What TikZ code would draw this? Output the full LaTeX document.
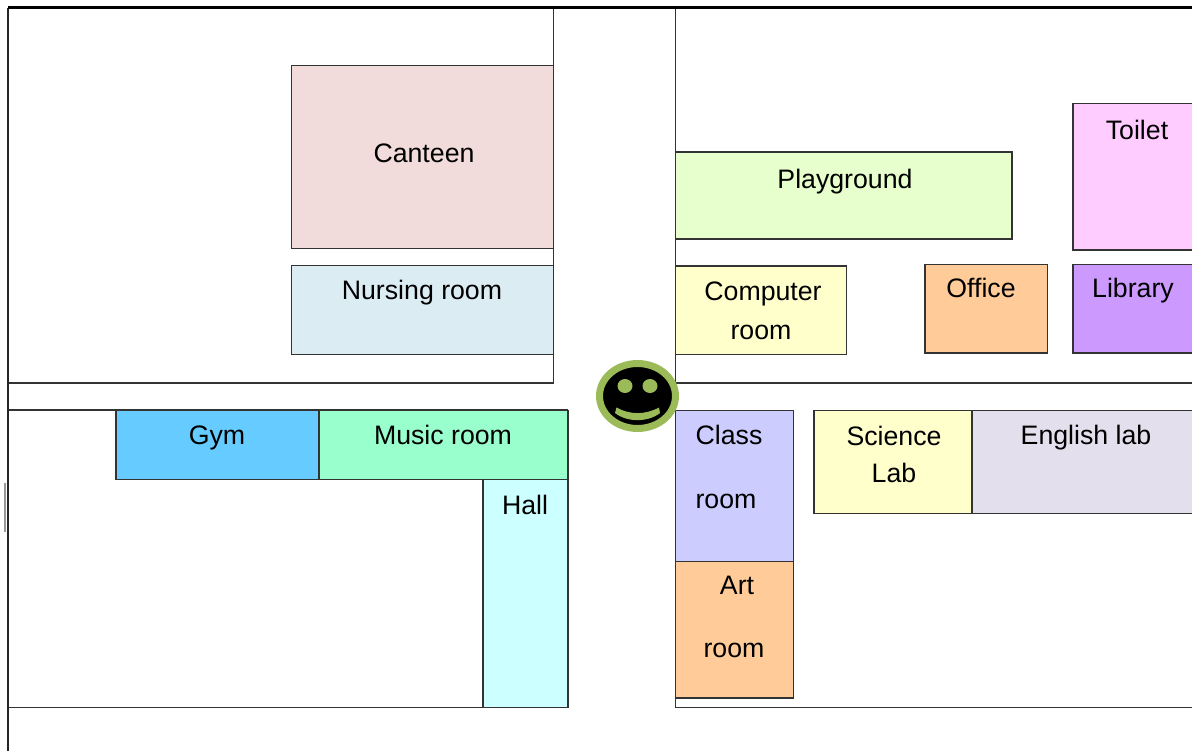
\documentclass[tikz,border=0pt]{standalone}
\usepackage{fontspec}
\setmainfont{Liberation Sans}
\definecolor{cCanteen}{HTML}{F2DCDB}
\definecolor{cNursing}{HTML}{DBEDF3}
\definecolor{cPlay}{HTML}{E6FFCC}
\definecolor{cToilet}{HTML}{FFCCFF}
\definecolor{cYellow}{HTML}{FFFFCC}
\definecolor{cOrange}{HTML}{FFCC99}
\definecolor{cLibrary}{HTML}{CC99FF}
\definecolor{cGym}{HTML}{66CCFF}
\definecolor{cMusic}{HTML}{99FFCC}
\definecolor{cHall}{HTML}{CCFFFF}
\definecolor{cClass}{HTML}{CCCCFF}
\definecolor{cEnglish}{HTML}{E4DFEC}
\definecolor{cRing}{HTML}{9BBB59}
\tikzset{
  roomrect/.style={draw=black!80,line width=1.2pt,inner sep=0pt,outer sep=0pt,anchor=north west},
  roomtext/.style={inner sep=0pt,font=\fontsize{26.7}{26.7}\selectfont,text=black},
  road/.style={draw=black!80,line width=1.2pt},
}
\newcommand{\room}[6]{\node[roomrect,fill=#6,minimum width=#4pt,minimum height=#5pt] (#1) at (#2,#3) {};}
\begin{document}
\begin{tikzpicture}[x=1pt,y=-1pt]
\useasboundingbox (0,0) rectangle (1192,751);
% roads
\draw[road] (8,8) -- (553.7,8) -- (553.7,383) -- (8,383);
\draw[road] (675.7,8) -- (675.7,383) -- (1192,383);
\draw[road] (8,410) -- (568,410);
\draw[road] (8,707.5) -- (568,707.5);
\draw[road] (675.7,410) -- (675.7,707.5) -- (1192,707.5);
\draw[line width=1.8pt,draw=black!85] (8,8) -- (8,751);
\draw[line width=2pt,draw=black!40] (5,483) -- (5,532);
% rooms
\room{canteen}{291.5}{65.5}{262.2}{183}{cCanteen}
\room{nursing}{291.5}{265.5}{262.2}{89}{cNursing}
\room{playground}{675.7}{152}{336.3}{87}{cPlay}
\room{toilet}{1073}{103.5}{130}{146.5}{cToilet}
\room{computer}{675.7}{266}{170.8}{88.5}{cYellow}
\room{office}{925}{264.5}{122.5}{88.5}{cOrange}
\room{library}{1073}{264.5}{130}{88.5}{cLibrary}
\room{gym}{116}{410.5}{203}{69}{cGym}
\room{music}{319}{410.5}{249}{69}{cMusic}
\room{hall}{483}{479.5}{85}{228}{cHall}
\room{classroom}{675.7}{410.5}{117.8}{151}{cClass}
\room{artroom}{675.7}{561.5}{117.8}{136.5}{cOrange}
\room{science}{814}{410.5}{158}{103}{cYellow}
\room{english}{972}{410.5}{230}{103}{cEnglish}
\draw[line width=2.6pt,draw=black] (8,7.5) -- (1192,7.5);
% labels
\node[roomtext] (t1) at (424,153.5) {Canteen};
\node[roomtext] (t2) at (422,292.5) {Nursing room};
\node[roomtext] (t3) at (845,181.5) {Playground};
\node[roomtext] (t4) at (1137,130) {Toilet};
\node[roomtext] (t5) at (763,294) {Computer};
\node[roomtext] (t6) at (761,332) {room};
\node[roomtext] (t7) at (981,288) {Office};
\node[roomtext] (t8) at (1133,290.5) {Library};
\node[roomtext] (t9) at (217,437.5) {Gym};
\node[roomtext] (t10) at (443,434.5) {Music room};
\node[roomtext] (t11) at (525,505) {Hall};
\node[roomtext] (t12) at (729,434.5) {Class};
\node[roomtext] (t13) at (726,501) {room};
\node[roomtext] (t14) at (737,585.5) {Art};
\node[roomtext] (t15) at (734,650) {room};
\node[roomtext] (t16) at (894,435.5) {Science};
\node[roomtext] (t17) at (894,472.5) {Lab};
\node[roomtext] (t18) at (1086,438) {English lab};
% smiley
\fill[black,draw=cRing,line width=7pt] (637.5,396) ellipse [x radius=38,y radius=32.5];
\fill[cRing] (625,386) ellipse [x radius=7.5,y radius=7];
\fill[cRing] (650,386) ellipse [x radius=7.5,y radius=7];
\fill[cRing] (616.5,407.5) .. controls (630,415) and (645,415) .. (659,407.5) -- (660,413) .. controls (648,422.5) and (627,422.5) .. (615,413) -- cycle;
\end{tikzpicture}
\end{document}
